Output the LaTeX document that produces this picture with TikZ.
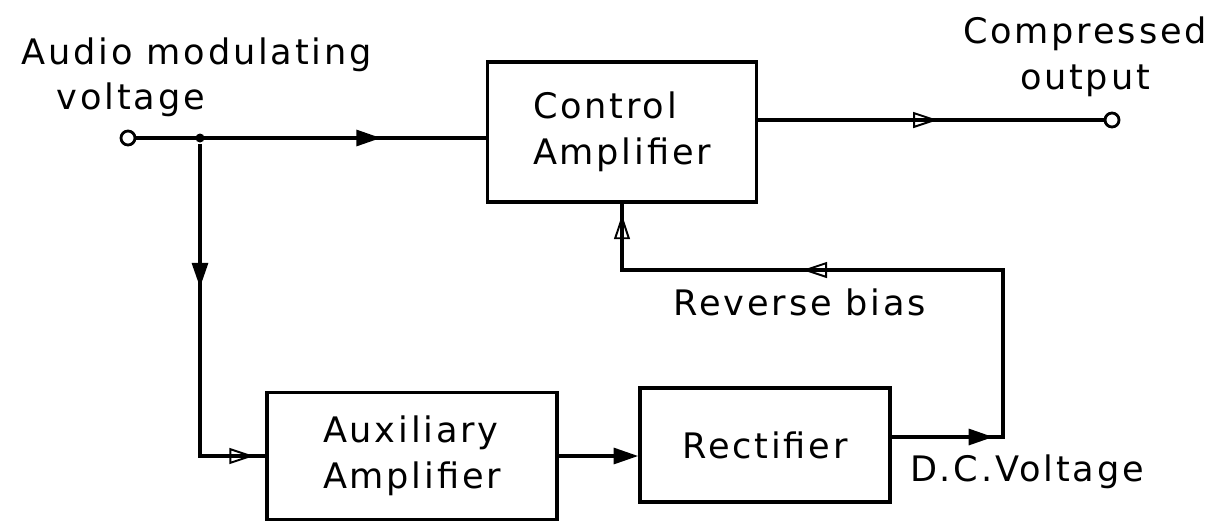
\documentclass[tikz,border=0pt]{standalone}
\usepackage{fontspec}
\setmainfont{DejaVu Sans}[LetterSpace=8]
\usetikzlibrary{arrows.meta,decorations.markings}
\newcommand\FilArr{\arrow{Triangle[length=14pt,width=9pt]}}
\newcommand\OpnArr{\arrow{Triangle[open,line width=1.1pt,length=14pt,width=9pt]}}
\tikzset{
  blk/.style={draw,line width=2pt,minimum width=#1,align=left,inner sep=0pt},
  term/.style={draw,circle,line width=1.6pt,minimum size=0.28cm,inner sep=0pt},
  jdot/.style={fill,circle,minimum size=0.18cm,inner sep=0pt},
}
\begin{document}
\begin{tikzpicture}[x=0.02cm,y=-0.02cm,line width=2pt,font=\fontsize{20}{26}\selectfont]
	\useasboundingbox (0,0) rectangle (1212,525);
	% blocks
	\node[blk=5.38cm,minimum height=2.8cm] (ctrl) at (622,132) {Control\\Amplifier};
	\node[blk=5.8cm,minimum height=2.54cm] (aux) at (412,456) {Auxiliary\\Amplifier};
	\node[blk=5cm,minimum height=2.28cm] (rect) at (765,445) {Rectifier};
	\node[term] (in) at (128,138) {};
	\node[term] (out) at (1112,120) {};
	\node[jdot] (j) at (200,138) {};
	\coordinate (dc) at (1003,437);%直流电压拐点
	\coordinate (fb) at (1003,270);%反馈拐点
	% connectors
	\draw[postaction={decorate},decoration={markings,mark=at position .7 with {\FilArr}}]
		(in) -- (in -| ctrl.west);
	\draw[postaction={decorate},decoration={markings,mark=at position .38 with {\FilArr},mark=at position .97 with {\OpnArr}}]
		(j) |- (aux.west);
	\draw[postaction={decorate},decoration={markings,mark=at position .52 with {\OpnArr}}]
		(out -| ctrl.east) -- (out);
	\draw[-{Triangle[length=14pt,width=9pt]}] (aux.east) -- (aux.east -| rect.west);
	\draw[postaction={decorate},decoration={markings,mark=at position .14 with {\FilArr},mark=at position .66 with {\OpnArr},mark=at position .985 with {\OpnArr}}]
		(rect.east |- dc) -- (dc) -- (fb) -| (ctrl.south);
	% labels
	\node[anchor=north west,align=left] (lblin) at (14,30) {Audio modulating\\\hspace*{1em}voltage};
	\node[align=center] (lblout) at (1085,57) {Compressed\\output};
	\node (lblrb) at (800,302) {Reverse bias};
	\node (lbldc) at (1027,472) {D.C.Voltage};
\end{tikzpicture}
\end{document}
